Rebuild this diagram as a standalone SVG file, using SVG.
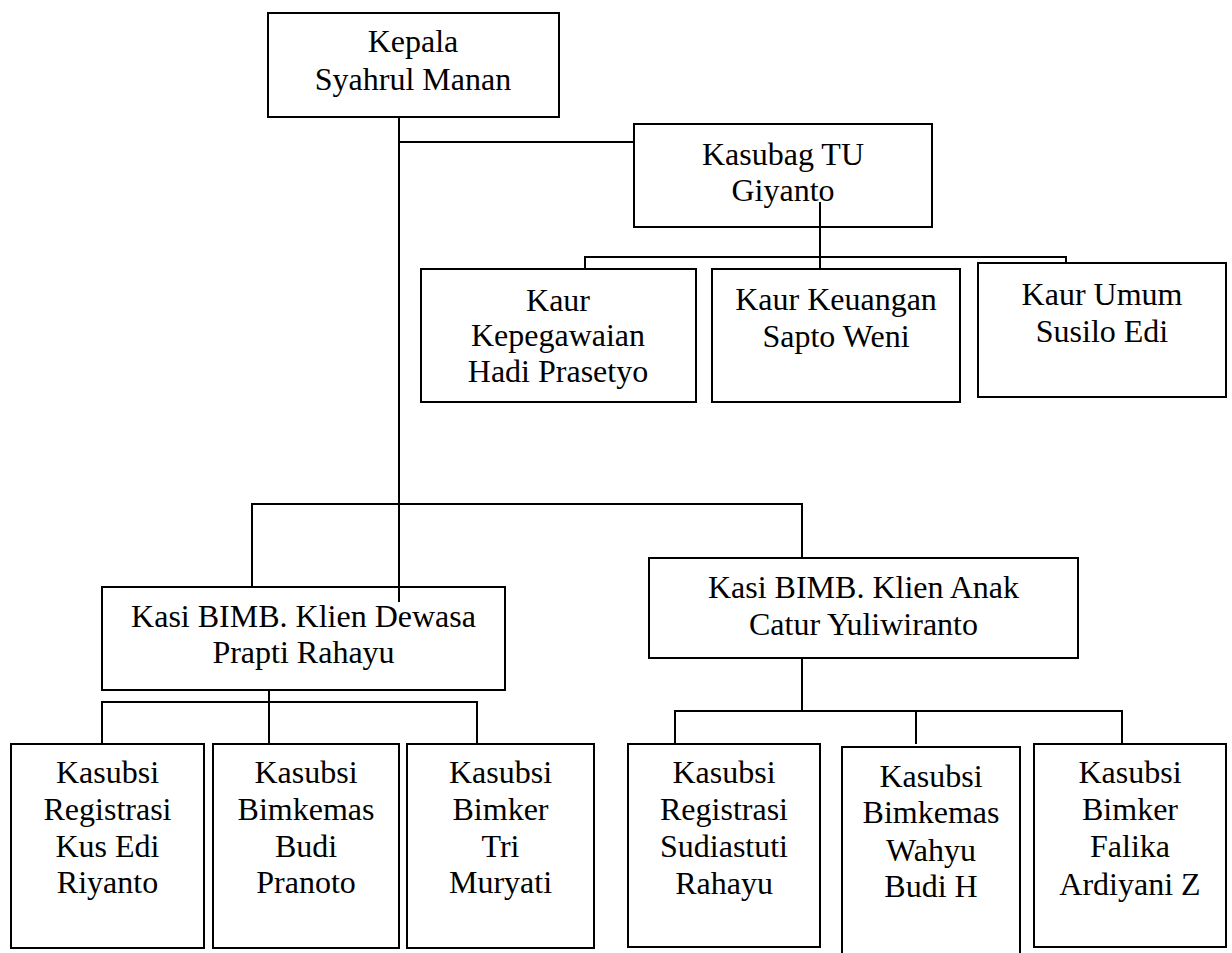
<svg xmlns="http://www.w3.org/2000/svg" width="1232" height="953" viewBox="0 0 1232 953">
<style>
.box{fill:#fff;stroke:#000;stroke-width:2}
.ln{fill:none;stroke:#000;stroke-width:2}
.t{font-family:'Liberation Serif','Times New Roman',Tinos,'DejaVu Serif',serif;font-size:32px;fill:#000;text-anchor:middle}
</style>
<rect width="1232" height="953" fill="#fff"/>
<g class="t" font-family="Liberation Serif, Times New Roman, serif">
<g id="n-kepala"><rect class="box" x="268" y="13" width="291" height="104"/><text x="413" y="52">Kepala</text><text x="413" y="90">Syahrul Manan</text></g>
<g id="n-kasubag"><rect class="box" x="634" y="124" width="298" height="103"/><text x="783" y="165">Kasubag TU</text><text x="783" y="201">Giyanto</text></g>
<g id="n-kepegawaian"><rect class="box" x="421" y="269" width="275" height="133"/><text x="558" y="311">Kaur</text><text x="558" y="346">Kepegawaian</text><text x="558" y="382">Hadi Prasetyo</text></g>
<g id="n-keuangan"><rect class="box" x="712" y="269" width="248" height="133"/><text x="836" y="310">Kaur Keuangan</text><text x="836" y="347">Sapto Weni</text></g>
<g id="n-umum"><rect class="box" x="978" y="263" width="248" height="134"/><text x="1102" y="305">Kaur Umum</text><text x="1102" y="342">Susilo Edi</text></g>
<g id="n-dewasa"><rect class="box" x="102" y="587" width="403" height="103"/><text x="303.5" y="627">Kasi BIMB. Klien Dewasa</text><text x="303.5" y="663">Prapti Rahayu</text></g>
<g id="n-anak"><rect class="box" x="649" y="558" width="429" height="100"/><text x="863.5" y="598">Kasi BIMB. Klien Anak</text><text x="863.5" y="635">Catur Yuliwiranto</text></g>
<g id="n-l1"><rect class="box" x="11" y="744" width="193" height="204"/><text x="107.5" y="783">Kasubsi</text><text x="107.5" y="820">Registrasi</text><text x="107.5" y="857">Kus Edi</text><text x="107.5" y="893">Riyanto</text></g>
<g id="n-l2"><rect class="box" x="213" y="744" width="186" height="204"/><text x="306" y="783">Kasubsi</text><text x="306" y="820">Bimkemas</text><text x="306" y="857">Budi</text><text x="306" y="893">Pranoto</text></g>
<g id="n-l3"><rect class="box" x="407" y="744" width="187" height="204"/><text x="500.5" y="783">Kasubsi</text><text x="500.5" y="820">Bimker</text><text x="500.5" y="857">Tri</text><text x="500.5" y="893">Muryati</text></g>
<g id="n-r1"><rect class="box" x="628" y="744" width="192" height="203"/><text x="724" y="783">Kasubsi</text><text x="724" y="820">Registrasi</text><text x="724" y="857">Sudiastuti</text><text x="724" y="894">Rahayu</text></g>
<g id="n-r2"><rect class="box" x="842" y="747" width="178" height="212"/><text x="931" y="787">Kasubsi</text><text x="931" y="823">Bimkemas</text><text x="931" y="861">Wahyu</text><text x="931" y="897">Budi H</text></g>
<g id="n-r3"><rect class="box" x="1034" y="744" width="192" height="203"/><text x="1130" y="783">Kasubsi</text><text x="1130" y="820">Bimker</text><text x="1130" y="857">Falika</text><text x="1130" y="895">Ardiyani Z</text></g>
</g>
<g id="connectors">
<path class="ln" d="M399 117V602M399 142H634"/>
<path class="ln" d="M820 202V269M585 269V257H1066V263"/>
<path class="ln" d="M252 587V504H802V558"/>
<path class="ln" d="M269 690V744M102 744V702H477V744"/>
<path class="ln" d="M802 658V711M675 744V711H1122V744M916 711V744"/>
</g>
</svg>
